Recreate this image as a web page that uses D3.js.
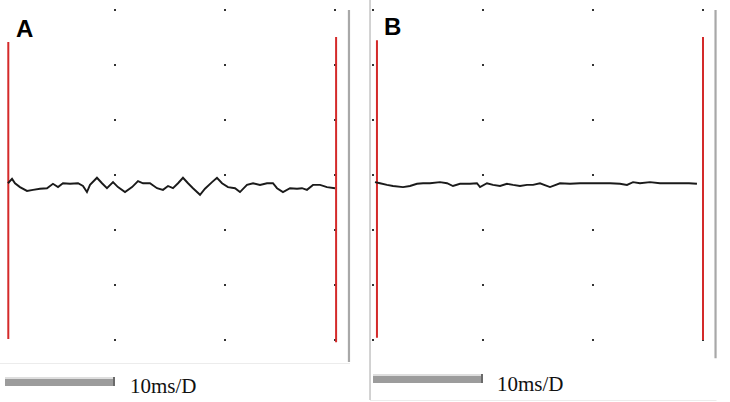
<!DOCTYPE html>
<html><head><meta charset="utf-8">
<script src="https://cdn.jsdelivr.net/npm/d3@7"></script>
<style>html,body{margin:0;padding:0;background:#fff;}svg{display:block;}</style>
</head><body>
<script>
// ---- data (time in ms, amplitude in divisions) ----
const panelLabels = ["A", "B"];
const scaleText = "10ms/D";
const gridTimes = [0, 10, 20, 30];
const gridDivs = [-3, -2, -1, 0, 1, 2, 3];

const traceA_t = [0.27,0.64,0.91,1.36,2.0,2.55,3.18,3.82,4.36,4.82,5.27,5.91,6.64,7.09,7.45,7.73,8.36,8.82,9.27,9.82,10.27,10.91,11.55,12.09,12.55,13.18,13.82,14.36,14.82,15.27,15.73,16.18,16.64,17.09,17.73,18.18,18.82,19.27,19.73,20.27,20.91,21.36,22.0,22.55,23.18,23.82,24.36,24.73,25.27,25.91,26.55,27.0,27.45,28.0,28.64,29.27,30.0];
const traceA_v = [-0.15,-0.07,-0.15,-0.22,-0.29,-0.27,-0.25,-0.24,-0.16,-0.22,-0.15,-0.16,-0.15,-0.2,-0.31,-0.18,-0.05,-0.15,-0.24,-0.13,-0.22,-0.31,-0.22,-0.11,-0.15,-0.15,-0.24,-0.27,-0.2,-0.24,-0.15,-0.05,-0.15,-0.24,-0.36,-0.25,-0.13,-0.05,-0.15,-0.22,-0.24,-0.31,-0.18,-0.15,-0.18,-0.15,-0.15,-0.24,-0.31,-0.24,-0.25,-0.24,-0.27,-0.18,-0.18,-0.22,-0.24];

const traceB_t = [0.18,0.64,1.27,1.82,2.73,3.36,4.0,4.55,5.18,6.09,6.73,7.27,7.91,8.82,9.45,9.73,10.36,10.91,11.55,12.18,12.73,13.36,14.0,14.55,15.18,16.09,17.0,17.91,18.82,19.73,20.64,21.55,22.45,23.09,23.64,24.27,25.18,26.09,26.91,27.82,28.73,29.45];
const traceB_v = [-0.13,-0.15,-0.18,-0.2,-0.22,-0.2,-0.16,-0.15,-0.15,-0.13,-0.15,-0.2,-0.16,-0.16,-0.15,-0.22,-0.15,-0.18,-0.2,-0.16,-0.18,-0.2,-0.18,-0.18,-0.15,-0.22,-0.15,-0.16,-0.15,-0.15,-0.15,-0.15,-0.16,-0.18,-0.13,-0.15,-0.13,-0.15,-0.15,-0.15,-0.15,-0.16];

// cursor lines: [time, top div, bottom div]
const cursorsA = [[0.3, 2.42, -2.98], [30.1, 2.51, -3.04]];
const cursorsB = [[0.36, 2.45, -2.96], [30.0, 2.51, -3.0]];
const scaleBarMs = 10;

// ---- layout ----
const W = 730, H = 402;
const svg = d3.select("body").append("svg").attr("width", W).attr("height", H);

const panels = [
  {label: panelLabels[0], t: traceA_t, v: traceA_v, cursors: cursorsA, x0: 5, x1: 335,
   gridCols: [10, 20, 30], frameT: 31.27, frameTop: 3.0, frameBot: -3.4,
   labelX: 16, labelY: 37, barY: 377, textX: 130, textY: 393, bottomLineY: 363, leftBorder: false},
  {label: panelLabels[1], t: traceB_t, v: traceB_v, cursors: cursorsB, x0: 373, x1: 703,
   gridCols: [0, 10, 20, 30], frameT: 31.14, frameTop: 3.0, frameBot: -3.33,
   labelX: 384, labelY: 35, barY: 374, textX: 497, textY: 391, bottomLineY: 400, leftBorder: true}
];

const y = d3.scaleLinear().domain([-3, 3]).range([340, 10]);

panels.forEach(p => {
  const x = d3.scaleLinear().domain([0, 30]).range([p.x0, p.x1]);
  const g = svg.append("g");

  // faint panel bottom line
  g.append("line")
    .attr("x1", p.leftBorder ? x(-0.27) : 0).attr("x2", x(p.frameT) + 1)
    .attr("y1", p.bottomLineY + 0.5).attr("y2", p.bottomLineY + 0.5)
    .attr("stroke", "#ececec").attr("stroke-width", 1);

  if (p.leftBorder) {
    g.append("line")
      .attr("x1", x(-0.27)).attr("x2", x(-0.27))
      .attr("y1", 0).attr("y2", p.bottomLineY)
      .attr("stroke", "#c4c4c4").attr("stroke-width", 1.5);
  }

  // grid dots
  const dots = [];
  p.gridCols.forEach(c => gridDivs.forEach(d => dots.push([c, d])));
  g.selectAll("rect.dot").data(dots).enter().append("rect")
    .attr("class", "dot")
    .attr("x", d => x(d[0]) - 1).attr("y", d => y(d[1]) - 1)
    .attr("width", 2).attr("height", 2)
    .attr("fill", "#333");

  // right gray frame line
  g.append("line")
    .attr("x1", x(p.frameT)).attr("x2", x(p.frameT))
    .attr("y1", y(p.frameTop)).attr("y2", y(p.frameBot))
    .attr("stroke", "#a8a8a8").attr("stroke-width", 2.2);

  // red cursor lines
  g.selectAll("line.cursor").data(p.cursors).enter().append("line")
    .attr("class", "cursor")
    .attr("x1", d => x(d[0])).attr("x2", d => x(d[0]))
    .attr("y1", d => y(d[1])).attr("y2", d => y(d[2]))
    .attr("stroke", "#d42a2a").attr("stroke-width", 2);

  // trace
  const pts = p.t.map((t, i) => [t, p.v[i]]);
  g.append("path").datum(pts)
    .attr("d", d3.line().x(d => x(d[0])).y(d => y(d[1])).curve(d3.curveLinear))
    .attr("fill", "none").attr("stroke", "#1a1a1a").attr("stroke-width", 1.9)
    .attr("stroke-linejoin", "miter");

  // label
  g.append("text").text(p.label)
    .attr("x", p.labelX).attr("y", p.labelY)
    .attr("font-family", "Liberation Sans, Arial, sans-serif")
    .attr("font-weight", "bold").attr("font-size", 24).attr("fill", "#000");

  // scale bar
  const bx0 = x(0), bx1 = x(scaleBarMs);
  g.append("rect").attr("x", bx0).attr("y", p.barY).attr("width", bx1 - bx0).attr("height", 9)
    .attr("fill", "#9c9c9c");
  g.append("rect").attr("x", bx0).attr("y", p.barY).attr("width", bx1 - bx0).attr("height", 2)
    .attr("fill", "#dedede");
  g.append("rect").attr("x", bx1 - 2).attr("y", p.barY).attr("width", 2).attr("height", 9)
    .attr("fill", "#6a6a6a");
  g.append("text").text(scaleText)
    .attr("x", p.textX).attr("y", p.textY)
    .attr("font-family", "Liberation Serif, Times New Roman, serif")
    .attr("font-size", 21).attr("fill", "#111");
});
</script>
</body></html>
